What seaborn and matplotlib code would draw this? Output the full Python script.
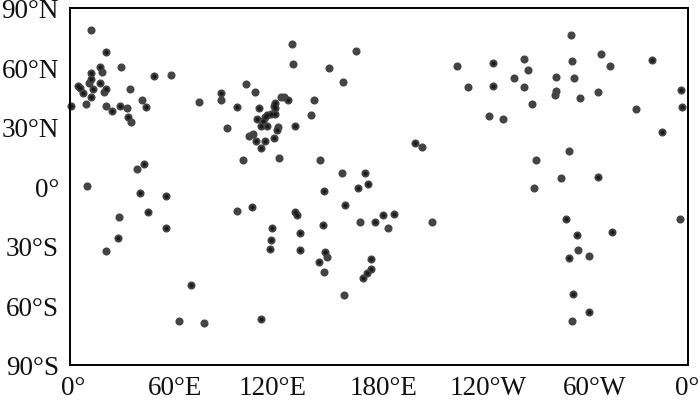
#!/usr/bin/env python3
"""Scatter map of station locations, longitude 0-360 against latitude."""

import matplotlib.pyplot as plt
import matplotlib.transforms as mtrans
import pandas as pd
import seaborn as sns

# points drawn once (lighter grey)
lon_single = [
    12.2, 129.3, 129.9, 29.9, 151.1, 18.6, 58.8, 159.0, 10.9, 102.5, 19.8, 34.8, 107.6,
    41.8, 87.8, 75.3, 142.2, 9.1, 21.2, 33.0, 35.3, 122.9, 124.9, 140.6, 121.4, 91.5,
    106.6, 104.1, 100.8, 121.8, 145.5, 158.7, 39.0, 9.9,
    166.8, 225.2, 264.5, 291.7, 292.2, 309.5, 314.8, 266.6, 258.5, 282.9, 293.8, 232.0,
    264.5, 282.9, 282.5, 307.8, 296.9, 329.5, 268.9, 243.9, 252.2, 205.0, 290.7, 271.5,
    286.2, 270.3,
    28.7, 97.3, 21.2, 149.5, 147.8, 159.4, 63.3, 78.3,
    168.9, 185.0, 210.9, 355.2, 296.1, 302.5, 292.4,
]
lat_single = [
    78.5, 71.4, 61.7, 60.3, 59.3, 57.3, 56.1, 52.6, 51.9, 51.4, 47.4, 49.2, 47.5,
    43.3, 43.3, 42.5, 43.2, 41.6, 40.6, 39.6, 32.4, 44.7, 44.7, 35.8, 29.9, 29.2,
    26.2, 25.2, 13.2, 14.2, 13.2, 6.5, 8.5, 0.1,
    67.9, 60.5, 64.0, 76.1, 63.3, 66.7, 60.5, 58.5, 54.3, 54.9, 54.6, 50.2,
    49.9, 47.9, 45.7, 47.2, 44.3, 39.0, 41.3, 35.2, 33.9, 19.6, 17.9, 13.2,
    4.1, -1.1,
    -15.7, -12.5, -32.5, -35.9, -43.1, -55.0, -68.0, -69.0,
    -18.2, -21.4, -17.9, -16.4, -32.0, -35.2, -68.0,
]

# points that show up darker in the original (overlapping stations)
lon_double = [
    21.2, 17.7, 12.4, 49.1, 12.2, 17.3, 4.9, 5.6, 7.8, 13.4, 20.8, 88.2, 12.2, 0.8,
    29.3, 44.1, 97.3, 110.3, 24.3, 33.8, 127.0, 119.4, 118.7, 119.6, 119.4, 117.1,
    114.6, 113.6, 108.9, 112.6, 114.6, 111.5, 120.4, 131.3, 108.6, 113.8, 118.7, 111.1,
    43.3, 40.6, 55.7, 147.8,
    246.2, 338.8, 246.4, 356.1, 356.7, 344.9, 201.0, 171.8, 173.4, 167.6, 307.8,
    160.4, 45.6, 106.2, 131.1, 132.4, 147.2, 117.5, 55.9, 134.0, 27.8, 117.1, 116.3,
    134.0, 148.8, 145.3, 70.5, 111.1,
    177.7, 182.3, 188.5, 288.9, 315.5, 295.2, 290.9, 175.1, 175.5, 173.2, 170.9,
    292.8, 302.5,
]
lat_double = [
    67.7, 60.3, 57.0, 55.4, 53.8, 51.9, 50.4, 49.5, 46.7, 48.9, 48.9, 47.0, 45.0, 40.3,
    40.6, 39.8, 39.8, 39.6, 37.8, 34.9, 43.3, 42.1, 40.5, 39.5, 36.2, 36.4,
    36.0, 34.6, 33.7, 32.9, 30.2, 30.4, 28.2, 30.2, 22.5, 22.6, 24.1, 19.4,
    11.2, -3.4, -4.9, -2.3,
    62.3, 63.7, 50.7, 48.2, 40.1, 27.5, 21.8, 6.8, 0.9, -0.9, 4.8,
    -9.8, -13.2, -10.8, -13.2, -14.7, -19.5, -21.4, -21.4, -23.9, -26.1, -27.1, -31.8,
    -32.3, -33.3, -38.2, -49.7, -66.8,
    -17.9, -14.7, -14.3, -16.7, -23.1, -24.9, -36.2, -36.9, -41.6, -43.9, -46.3,
    -54.2, -63.6,
]

lon_ticks = [0, 60, 120, 180, 240, 300, 360]
lon_labels = ["0°", "60°E", "120°E", "180°E", "120°W", "60°W", "0°"]
lat_ticks = [90, 60, 30, 0, -30, -60, -90]
lat_labels = ["90°N", "60°N", "30°N", "0°", "30°S", "60°S", "90°S"]

# the x labels sit a little off their ticks in the original (pixels)
lon_label_shift = [3, 2, -3, 4, 6, 10, -1]

sns.set_theme(style="white")
plt.rcParams["font.family"] = ["Liberation Serif", "DejaVu Serif"]

df_single = pd.DataFrame({"lon": lon_single, "lat": lat_single})
df_double = pd.DataFrame({"lon": lon_double, "lat": lat_double})
df_all = pd.concat([df_single, df_double])

fig, ax = plt.subplots(figsize=(7.0, 4.01), dpi=100)
fig.subplots_adjust(left=0.1, right=0.983, top=0.981, bottom=0.091)

sns.scatterplot(data=df_all, x="lon", y="lat", ax=ax, s=34, color="#444444", linewidth=0, clip_on=False)
sns.scatterplot(data=df_double, x="lon", y="lat", ax=ax, s=9, color="#1a1a1a", linewidth=0, clip_on=False)

ax.set_xlim(0, 360)
ax.set_ylim(-90, 90)
ax.set_xticks(lon_ticks)
ax.set_xticklabels(lon_labels, fontsize=19.5, color="#111111")
ax.set_yticks(lat_ticks)
ax.set_yticklabels(lat_labels, fontsize=19.5, color="#111111")
ax.set_xlabel("")
ax.set_ylabel("")
ax.tick_params(axis="x", length=0, pad=8)
ax.tick_params(axis="y", length=0, pad=8)

# px to inches at dpi 100
for label, shift in zip(ax.get_xticklabels(), lon_label_shift):
    label.set_transform(label.get_transform() + mtrans.ScaledTranslation(shift / 100, 0, fig.dpi_scale_trans))
for label in ax.get_yticklabels():
    label.set_transform(label.get_transform() + mtrans.ScaledTranslation(0, -1 / 100, fig.dpi_scale_trans))

for spine in ax.spines.values():
    spine.set_color("black")
    spine.set_linewidth(1.4)

fig.savefig("out.png", dpi=100)
